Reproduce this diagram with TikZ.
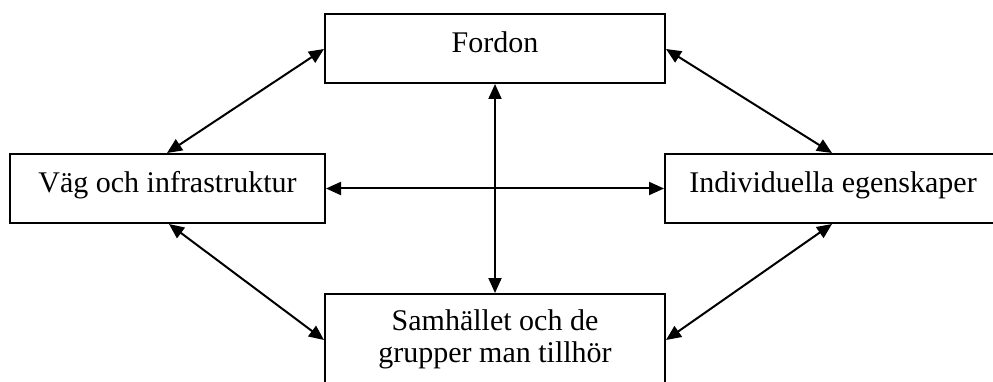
\documentclass[tikz,border=0pt]{standalone}
\usepackage{fontspec}
\setmainfont{Liberation Serif}
\usetikzlibrary{arrows.meta,calc}
\begin{document}
\begin{tikzpicture}[x=1pt,y=-1pt,
  box/.style={draw,line width=2pt,inner sep=0pt,minimum height=69pt},
  lbl/.style={inner sep=0pt,anchor=base,font=\fontsize{30}{32}\selectfont},
  link/.style={line width=2pt,{Triangle[length=15pt,width=13pt]}-{Triangle[length=15pt,width=13pt]}}]
\useasboundingbox (0,0) rectangle (993,382);
\clip (0,0) rectangle (993,382);
\fill[white] (0,0) rectangle (993,382);
\node[box,minimum width=340pt] (fordon) at (495,48.5) {};
\node[box,minimum width=315pt] (vag) at (167.5,188.5) {};
\node[box,minimum width=336pt] (indiv) at (833,188.5) {};
\node[box,minimum width=340pt,minimum height=100pt] (samh) at (495,344) {};
\node[lbl] (tf) at (495,53) {Fordon};
\node[lbl] (tv) at (167.5,193) {Väg och infrastruktur};
\node[lbl] (ti) at (833,193) {Individuella egenskaper};
\node[lbl] (ts1) at (495,330) {Samhället och de};
\node[lbl] (ts2) at (495,362) {grupper man tillhör};
\draw[link] ($(vag.north west)+(158,0)$) -- ($(fordon.west)+(0,0.5)$);
\draw[link] ($(fordon.east)+(0,0.5)$) -- ($(indiv.north west)+(168,0)$);
\draw[link] ($(vag.south west)+(160,0)$) -- ($(samh.north west)+(0,47)$);
\draw[link] ($(indiv.south west)+(168,0)$) -- ($(samh.north east)+(0,47)$);
\draw[link] (vag.east) -- (indiv.west);
\draw[link] (fordon.south) -- (samh.north);
\end{tikzpicture}
\end{document}
